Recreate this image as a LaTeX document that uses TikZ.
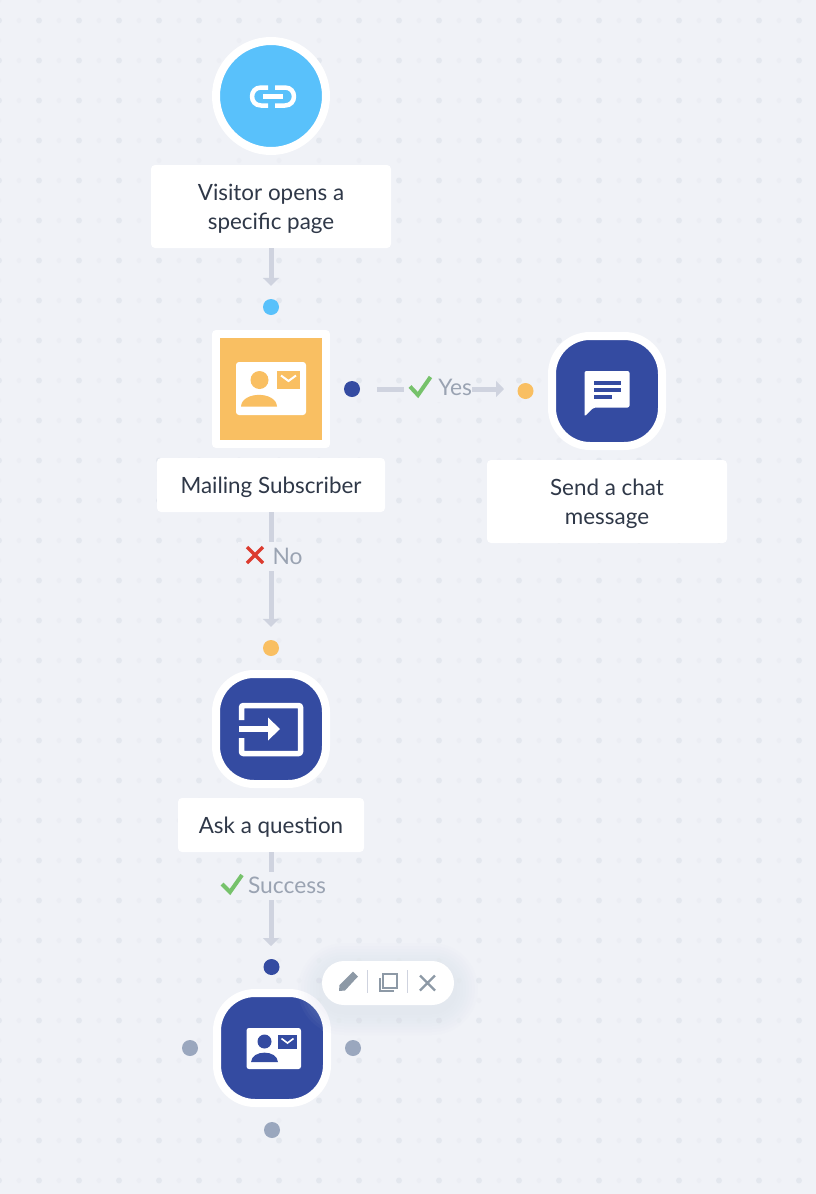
\documentclass[tikz,border=0pt]{standalone}
\usepackage{xcolor}
\usepackage{fontspec}
\usepackage{tikz}
\usetikzlibrary{arrows.meta}
\setmainfont{Lato}
\definecolor{bgcolor}{RGB}{240, 242, 247}
\definecolor{griddark}{RGB}{227, 231, 238}
\definecolor{gridfaint}{RGB}{236, 238, 244}
\definecolor{skycolor}{RGB}{89, 193, 251}
\definecolor{orangecolor}{RGB}{249, 191, 98}
\definecolor{navycolor}{RGB}{52, 75, 161}
\definecolor{linecolor}{RGB}{207, 211, 223}
\definecolor{labelcolor}{RGB}{154, 163, 178}
\definecolor{textcolor}{RGB}{47, 56, 72}
\definecolor{portcolor}{RGB}{154, 167, 190}
\definecolor{toolcolor}{RGB}{141, 153, 166}
\definecolor{shadowcolor}{RGB}{205, 214, 234}
\definecolor{greencolor}{RGB}{118, 194, 107}
\definecolor{redcolor}{RGB}{220, 59, 47}

\begin{document}
\begin{tikzpicture}[
    x=1pt, y=-1pt,
    textbox/.style={rectangle, fill=white, rounded corners=4pt, inner sep=0pt, text=textcolor, align=center, font=\fontsize{22.4}{29}\selectfont, execute at begin node={\rule{0pt}{20.5pt}}},
    tallbox/.style={textbox, minimum width=240pt, minimum height=83pt, execute at begin node={\rule{0pt}{49.5pt}}},
    roundicon/.style={rectangle, draw=white, line width=8pt, minimum size=110pt, rounded corners=38pt, fill=navycolor, inner sep=0pt},
    porticon/.style={circle, minimum size=16pt, inner sep=0pt},
    edgelabel/.style={rectangle, fill=bgcolor, inner sep=0pt, text=labelcolor, align=right, font=\fontsize{22.8}{25}\selectfont},
    arrow/.style={-{Triangle[length=8pt, width=16pt]}, line width=5pt, linecolor},
    tick/.style={greencolor, line width=4pt},
    cross/.style={redcolor, line width=3.5pt},
    toolstroke/.style={toolcolor, line width=2pt}
]

% Background
\useasboundingbox (0,0) rectangle (816,1194);
\fill[bgcolor] (0,0) rectangle (816,1194);
\foreach \i in {-1,...,20} {
    \foreach \j in {0,...,29} {
        \fill[griddark] (39+40*\i, 20.5+40*\j) circle (3);
        \fill[gridfaint] (19+40*\i, 20.5+40*\j) circle (2.6);
        \fill[gridfaint] (39+40*\i, 0.5+40*\j) circle (2.6);
    }
}

% Steps
\node[roundicon, circle, fill=skycolor, minimum size=110pt] (trigger) at (271, 96) {};
\node[tallbox] (visitor) at (271, 206.5) {Visitor opens a\\specific page};
\node[porticon, fill=skycolor] (dot1) at (271, 307) {};

\node[rectangle, draw=white, line width=8pt, line join=round, fill=orangecolor, minimum size=110pt, inner sep=0pt] (mailing) at (271, 389) {};
\node[textbox, minimum width=228pt, minimum height=54pt] (subscriber) at (271, 485) {Mailing Subscriber};
\node[porticon, fill=navycolor] (dot2) at (352, 389) {};

\node[porticon, fill=orangecolor] (dot3) at (525.5, 391) {};
\node[roundicon] (chat) at (607, 391) {};
\node[tallbox] (message) at (607, 501.5) {Send a chat\\message};

\node[porticon, fill=orangecolor] (dot4) at (271, 648) {};
\node[roundicon] (question) at (271, 729) {};
\node[textbox, minimum width=186pt, minimum height=54pt] (ask) at (271, 825) {Ask a question};

\node[porticon, fill=navycolor] (dot5) at (271.5, 967) {};
\node[roundicon] (contact) at (272, 1048) {};
\node[porticon, fill=portcolor] (dot6) at (190, 1048) {};
\node[porticon, fill=portcolor] (dot7) at (353, 1048) {};
\node[porticon, fill=portcolor] (dot8) at (272, 1130) {};

% Arrows
\draw[arrow, shorten >=13pt] (visitor) -- (dot1);
\draw[arrow, shorten <=17pt, shorten >=21.5pt] (dot2) -- (dot3 |- dot2);
\draw[arrow, shorten >=13pt] (subscriber) -- (dot4);
\draw[arrow, shorten >=21pt] (ask) -- (dot5 -| ask);

% Edge labels
\node[edgelabel, text width=68pt, minimum height=30pt] (yes) at (438, 387) {Yes};
\node[edgelabel, text width=65pt, minimum height=29pt] (no) at (270, 556) {No};
\node[edgelabel, text width=112pt, minimum height=28pt] (success) at (270, 885.5) {Success};
\draw[tick] (410, 386.5) -- (418, 395) -- (430.5, 377);
\draw[cross] (247, 547) -- (263, 563) (263, 547) -- (247, 563);
\draw[tick] (222, 884) -- (230, 892) -- (242, 875);

% Link icon
\draw[white, line width=4.5pt] (268, 87.5) -- (261, 87.5) to[out=180, in=180, looseness=1.7] (261, 105.5) -- (268, 105.5);
\draw[white, line width=4.5pt] (275, 87.5) -- (285, 87.5) to[out=0, in=0, looseness=1.7] (285, 105.5) -- (275, 105.5);
\draw[white, line width=4.5pt] (263, 96.5) -- (283, 96.5);

% Card icon, orange
\fill[white, rounded corners=3pt] (236, 362) rectangle (306, 415);
\fill[orangecolor] (259.5, 380) circle (9);
\fill[orangecolor] (241, 406.5) .. controls (242, 391) and (276, 391) .. (277, 406.5) -- cycle;
\fill[orangecolor] (277, 371) rectangle (300, 389);
\draw[white, line width=2pt] (281, 375.5) -- (288.5, 381) -- (296, 375.5);

% Chat icon
\fill[white, rounded corners=2pt] (584.5, 416.5) -- (584.5, 371) -- (629.5, 371) -- (629.5, 407.5) -- (593.5, 407.5) -- cycle;
\fill[navycolor] (593.5, 380.5) rectangle (621, 385);
\fill[navycolor] (593.5, 387.5) rectangle (621, 392);
\fill[navycolor] (593.5, 394.5) rectangle (612, 399);

% Question icon
\draw[white, line width=5.5pt, rounded corners=2pt] (241.5, 720) -- (241.5, 705.5) -- (300.5, 705.5) -- (300.5, 753.5) -- (241.5, 753.5) -- (241.5, 738);
\draw[white, line width=6pt] (239, 729) -- (269, 729);
\fill[white] (268, 717.5) -- (280, 729) -- (268, 740.5) -- cycle;

% Card icon, navy
\fill[white, rounded corners=2.5pt] (246.5, 1028) rectangle (301, 1069);
\fill[navycolor] (264.5, 1041.5) circle (7);
\fill[navycolor] (251, 1062) .. controls (252, 1049.5) and (277, 1049.5) .. (278, 1062) -- cycle;
\fill[navycolor] (278, 1035) rectangle (297, 1049);
\draw[white, line width=1.6pt] (281.5, 1038.5) -- (287.5, 1043) -- (293.5, 1038.5);

% Toolbar
\foreach \s in {24,21,...,3} {
    \fill[shadowcolor, opacity=0.04, rounded corners=22pt+\s*1pt] (322-\s, 967-\s) rectangle (454+\s, 1011+\s);
}
\node[rectangle, fill=white, rounded corners=22pt, minimum width=132pt, minimum height=44pt, inner sep=0pt] (toolbar) at (388, 983) {};
\draw[linecolor, line width=1pt] (367, 970) -- (367, 993) (407, 970) -- (407, 993);
\fill[toolcolor] (339, 991) -- (339.5, 985) -- (351.5, 973) -- (353, 971.5) -- (358, 976.5) -- (356.5, 978) -- (345, 990.5) -- cycle;
\draw[toolstroke] (383, 973.5) rectangle (397, 987.5);
\draw[toolstroke] (379.5, 978) -- (379.5, 991) -- (394, 991);
\draw[toolstroke, line width=2.3pt] (420, 975.5) -- (435, 990.5) (435, 975.5) -- (420, 990.5);

\end{tikzpicture}
\end{document}
